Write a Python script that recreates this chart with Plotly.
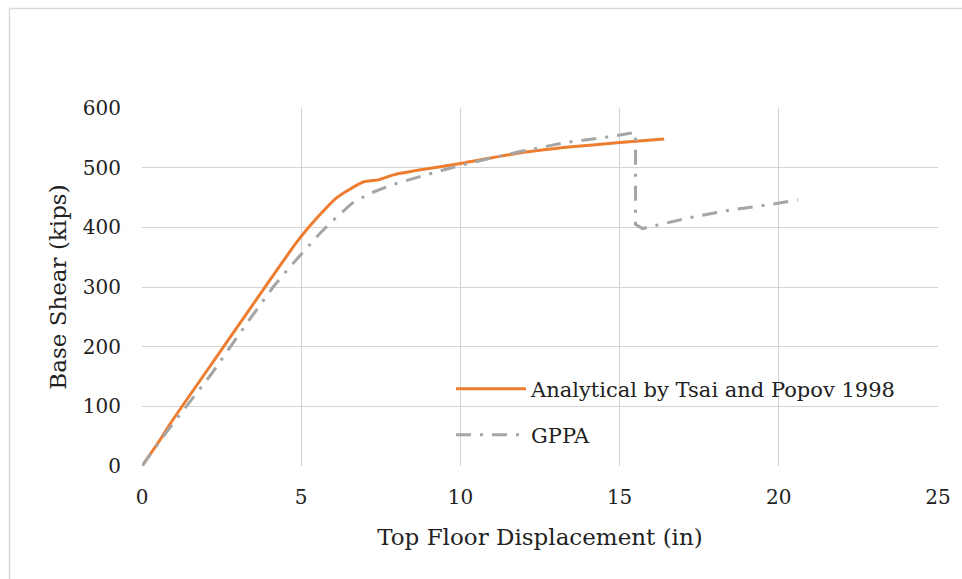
import plotly.graph_objects as go

# Data
analytical_x = [0, 0.57, 0.9, 2.5, 4.9, 5.5, 6.1, 6.5, 6.95, 7.45, 7.9, 8.7, 10.0, 11.9, 13.5, 15.0, 16.4]
analytical_y = [0, 44, 72, 195, 378, 416, 449, 463, 476, 480, 488, 496, 507, 525, 535, 542, 548]

gppa_x = [0, 0.77, 1.35, 1.72, 2.19, 3.29, 4.12, 4.65, 5.03, 5.59, 6.01, 6.59, 7.16, 7.9, 8.73, 9.2,
          10.0, 11.87, 13.28, 14.7, 15.5, 15.5, 15.72, 17.1, 18.47, 19.83, 20.6]
gppa_y = [0, 57, 97, 122, 155, 239, 300, 334, 356, 390, 412, 440, 457, 472, 485, 492,
          504, 527, 542, 552, 559, 405, 398, 415, 429, 439, 446]

series_names = ["Analytical by Tsai and Popov 1998", "GPPA"]
x_ticks = [0, 5, 10, 15, 20, 25]
y_ticks = [0, 100, 200, 300, 400, 500, 600]

FONT = "DejaVu Serif"

fig = go.Figure()
fig.add_trace(go.Scatter(
    x=analytical_x, y=analytical_y, mode="lines", name=series_names[0],
    line=dict(color="#ED7D31", width=3, shape="spline", smoothing=0.6), legend="legend", showlegend=True))
fig.add_trace(go.Scatter(
    x=gppa_x, y=gppa_y, mode="lines", name=series_names[1],
    line=dict(color="#A5A5A5", width=3, dash="15px,9px,3px,9px"), legend="legend2", showlegend=True))

W, H = 962, 579
L, R, T, B = 142, 24, 108, 113
pw, ph = W - L - R, H - T - B

def px_x(p):
    return (p - L) / pw

def px_y(p):
    return (H - B - p) / ph

legend_common = dict(
    bgcolor="rgba(0,0,0,0)", font=dict(family=FONT, size=21, color="#222"),
    xanchor="left", yanchor="middle", itemwidth=70, borderwidth=0, visible=True,
)

fig.update_layout(
    width=W, height=H,
    margin=dict(l=L, r=R, t=T, b=B),
    paper_bgcolor="white", plot_bgcolor="white",
    showlegend=True,
    font=dict(family=FONT, size=19, color="#222"),
    legend=dict(x=px_x(451), y=px_y(389), **legend_common),
    legend2=dict(x=px_x(451), y=px_y(435), **legend_common),
    xaxis=dict(
        range=[0, 25], tickvals=x_ticks, showgrid=True, gridcolor="#D4D4D4", gridwidth=1.3,
        zeroline=False, showline=False, ticks="", ticklabelstandoff=17,
        tickfont=dict(family=FONT, size=20, color="#222"),
        title=dict(text="Top Floor Displacement (in)", font=dict(family=FONT, size=23, color="#222"), standoff=20),
        automargin=False,
    ),
    yaxis=dict(
        range=[0, 600], tickvals=y_ticks, showgrid=True, gridcolor="#D4D4D4", gridwidth=1.3,
        zeroline=False, showline=False, ticks="", ticklabelstandoff=20,
        tickfont=dict(family=FONT, size=20, color="#222"),
        title=dict(text="Base Shear (kips)", font=dict(family=FONT, size=23, color="#222"), standoff=9),
        automargin=False,
    ),
    shapes=[
        dict(type="line", xref="paper", yref="paper", x0=px_x(9.5), x1=px_x(970), y0=px_y(8.5), y1=px_y(8.5),
             line=dict(color="#D9D9D9", width=1.5), layer="below"),
        dict(type="line", xref="paper", yref="paper", x0=px_x(9.5), x1=px_x(9.5), y0=px_y(8.5), y1=px_y(590),
             line=dict(color="#D9D9D9", width=1.5), layer="below"),
    ],
)

fig.write_html("out.html")
